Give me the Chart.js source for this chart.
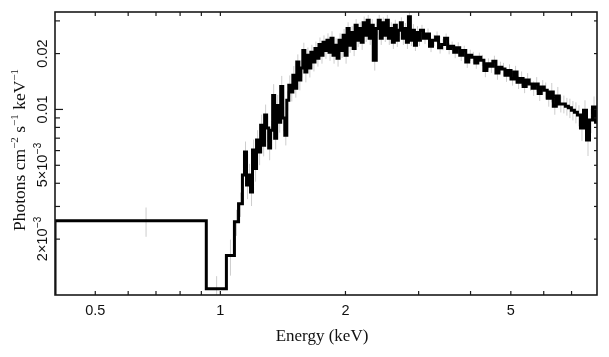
<!DOCTYPE html>
<html>
<head>
<meta charset="utf-8">
<script src="https://cdn.jsdelivr.net/npm/chart.js@4/dist/chart.umd.min.js"></script>
<style>
html,body{margin:0;padding:0;background:#fff;}
canvas{display:block;}
</style>
</head>
<body>
<canvas id="c" width="609" height="357"></canvas>
<script>
// Bin edges (keV)
const binEdges = [0.4, 0.925, 1.034, 1.081, 1.106, 1.130, 1.143, 1.156, 1.169, 1.182, 1.195, 1.209, 1.222, 1.236, 1.250, 1.264, 1.278, 1.292, 1.307, 1.321, 1.336, 1.351, 1.366, 1.382, 1.397, 1.413, 1.429, 1.445, 1.461, 1.477, 1.494, 1.511, 1.527, 1.545, 1.562, 1.579, 1.597, 1.615, 1.633, 1.651, 1.670, 1.689, 1.707, 1.727, 1.746, 1.766, 1.785, 1.805, 1.826, 1.846, 1.867, 1.888, 1.909, 1.930, 1.952, 1.974, 1.996, 2.018, 2.041, 2.064, 2.087, 2.110, 2.134, 2.158, 2.182, 2.206, 2.231, 2.256, 2.281, 2.307, 2.333, 2.372, 2.398, 2.425, 2.452, 2.480, 2.508, 2.536, 2.564, 2.593, 2.622, 2.651, 2.681, 2.711, 2.741, 2.772, 2.803, 2.835, 2.866, 2.898, 2.931, 2.964, 2.997, 3.030, 3.082, 3.134, 3.186, 3.240, 3.295, 3.350, 3.407, 3.464, 3.523, 3.582, 3.643, 3.704, 3.767, 3.830, 3.895, 3.960, 4.027, 4.095, 4.164, 4.234, 4.306, 4.379, 4.452, 4.527, 4.604, 4.681, 4.760, 4.841, 4.922, 5.005, 5.090, 5.176, 5.263, 5.352, 5.442, 5.534, 5.627, 5.722, 5.819, 5.917, 6.017, 6.118, 6.221, 6.326, 6.433, 6.541, 6.652, 6.764, 6.878, 6.994, 7.112, 7.232, 7.354, 7.478, 7.604, 7.732, 7.863, 7.995, 8.13];

// Flux per bin (photons cm^-2 s^-1 keV^-1)
const flux = [0.00251, 0.00108, 0.00163, 0.00248, 0.00310, 0.00443, 0.00589, 0.00391, 0.00443, 0.00359,
  0.00604, 0.00480, 0.00684, 0.00589, 0.00823, 0.00642, 0.00932, 0.00794, 0.00619, 0.00773,
  0.0119, 0.00700, 0.0105, 0.00852, 0.0133, 0.00898, 0.00727, 0.0112, 0.0135, 0.0124,
  0.0153, 0.0130, 0.0180, 0.0144, 0.0167, 0.0208, 0.0159, 0.0196, 0.0167, 0.0203,
  0.0180, 0.0213, 0.0189, 0.0224, 0.0196, 0.0230, 0.0208, 0.0236, 0.0203, 0.0242,
  0.0196, 0.0222, 0.0189, 0.0236, 0.0208, 0.0251, 0.0196, 0.0273, 0.0222, 0.0260,
  0.0213, 0.0284, 0.0236, 0.0273, 0.0230, 0.0293, 0.0251, 0.0302, 0.0242, 0.0284,
  0.0184, 0.0273, 0.0302, 0.0242, 0.0293, 0.0251, 0.0302, 0.0242, 0.0273, 0.0230,
  0.0284, 0.0236, 0.0267, 0.0293, 0.0242, 0.0273, 0.0230, 0.0316, 0.0236, 0.0267,
  0.0222, 0.0260, 0.0236, 0.0267, 0.0242, 0.0255, 0.0219, 0.0236, 0.0246, 0.0215,
  0.0224, 0.0242, 0.0213, 0.0219, 0.0203, 0.0215, 0.0196, 0.0208, 0.0180, 0.0196,
  0.0191, 0.0178, 0.0191, 0.0184, 0.0162, 0.0176, 0.0171, 0.0182, 0.0157, 0.0169,
  0.0165, 0.0153, 0.0162, 0.0146, 0.0159, 0.0140, 0.0147, 0.0133, 0.0144, 0.0137,
  0.0130, 0.0137, 0.0122, 0.0132, 0.0127, 0.0115, 0.0124, 0.0104, 0.0118, 0.0107,
  0.0107, 0.0104, 0.0102, 0.00991, 0.00967, 0.00932, 0.00794, 0.00991, 0.00684, 0.00876,
  0.0103, 0.00852];

// Relative 1-sigma error per bin
const relErr = [0.18, 0.17, 0.22, 0.16, 0.15,
  0.15, 0.14, 0.16, 0.15, 0.16, 0.14, 0.15, 0.13, 0.15, 0.14, 0.13, 0.14, 0.16, 0.14, 0.12, 0.15, 0.13, 0.14, 0.12, 0.14, 0.15, 0.12, 0.12, 0.13, 0.11,
  0.12, 0.11, 0.10, 0.12, 0.11, 0.10, 0.12, 0.10, 0.11, 0.10, 0.11, 0.09, 0.10, 0.09, 0.10, 0.09, 0.10, 0.09, 0.10, 0.09, 0.10, 0.09, 0.10, 0.09, 0.09, 0.08, 0.10,
  0.08, 0.09, 0.08, 0.09, 0.08, 0.08, 0.08, 0.09, 0.08, 0.08, 0.07, 0.08, 0.08, 0.12, 0.08, 0.07, 0.08, 0.07, 0.08, 0.07, 0.08, 0.08, 0.08, 0.07, 0.08, 0.07, 0.07, 0.08, 0.07, 0.08, 0.08, 0.07, 0.08, 0.07, 0.08, 0.07, 0.07, 0.07, 0.07, 0.07, 0.07, 0.07, 0.07,
  0.07, 0.06, 0.07, 0.06, 0.07, 0.07, 0.07, 0.06, 0.07, 0.07, 0.07, 0.07, 0.06, 0.07, 0.08, 0.07, 0.08, 0.07, 0.08, 0.07, 0.08, 0.08, 0.08, 0.08, 0.08, 0.08, 0.09, 0.08, 0.09, 0.08, 0.09, 0.09, 0.09, 0.09, 0.10,
  0.10, 0.12, 0.10, 0.12, 0.10, 0.11, 0.11, 0.12, 0.12, 0.13, 0.13, 0.15, 0.13, 0.18, 0.15, 0.14, 0.16];

// Axes
const xRange = [0.4, 8.06];
const yRange = [0.001, 0.0335];
const xTickValues = [0.5, 0.6, 0.7, 0.8, 0.9, 1, 2, 3, 4, 5, 6, 7];
const xLabelValues = [0.5, 1, 2, 5];
const xLabelTexts = ['0.5', '1', '2', '5'];
const yTickValues = [0.002, 0.003, 0.004, 0.005, 0.006, 0.007, 0.008, 0.009, 0.01, 0.02, 0.03];
const yLabelValues = [0.002, 0.005, 0.01, 0.02];
const yLabelBases = ['2×10', '5×10', '0.01', '0.02'];
const yLabelExps = ['−3', '−3', '', ''];
const xTitle = 'Energy (keV)';
const yTitleParts = [['Photons cm', false], ['−2', true], [' s', false], ['−1', true], [' keV', false], ['−1', true]];

const n = Math.min(flux.length, binEdges.length - 1, relErr.length);
// step starts from the axis floor at the first bin edge
const stepPts = [{x: binEdges[0], y: yRange[0]}];
for (let i = 0; i < n; i++) stepPts.push({x: binEdges[i], y: flux[i]});
stepPts.push({x: binEdges[n], y: flux[n - 1]});

const errPts = [];
for (let i = 0; i < n; i++) {
  const c = (binEdges[i] + binEdges[i + 1]) / 2;
  errPts.push({x: c, y: flux[i] * (1 - relErr[i])});
  errPts.push({x: c, y: flux[i] * (1 + relErr[i])});
  errPts.push({x: c, y: null});
}

const SANS = '"Liberation Sans", Arial, Helvetica, sans-serif';
const SERIF = '"Liberation Serif", "Times New Roman", serif';

const framePlugin = {
  id: 'frame',
  afterDraw(chart) {
    const {ctx, chartArea: a, scales} = chart;
    const xs = scales.x, ys = scales.y;
    ctx.save();
    const seg = (x1, y1, x2, y2) => { ctx.beginPath(); ctx.moveTo(x1, y1); ctx.lineTo(x2, y2); ctx.stroke(); };
    ctx.strokeStyle = '#1a1a1a';
    ctx.lineWidth = 1.6;
    ctx.strokeRect(a.left, a.top, a.right - a.left, a.bottom - a.top);
    ctx.lineWidth = 1.2;
    xTickValues.forEach(v => {
      const px = xs.getPixelForValue(v);
      seg(px, a.bottom, px, a.bottom - 4);
      seg(px, a.top, px, a.top + 4);
    });
    yTickValues.forEach(v => {
      const py = ys.getPixelForValue(v);
      const L = (v === 0.01) ? 8 : 5;
      seg(a.left, py, a.left + L, py);
      seg(a.right, py, a.right - 3, py);
    });
    // x tick labels
    ctx.fillStyle = '#111';
    ctx.font = '14.5px ' + SANS;
    ctx.textAlign = 'center';
    ctx.textBaseline = 'alphabetic';
    xLabelValues.forEach((v, i) => {
      ctx.fillText(xLabelTexts[i], xs.getPixelForValue(v), a.bottom + 20);
    });
    // y tick labels (rotated)
    yLabelValues.forEach((v, i) => {
      const py = ys.getPixelForValue(v);
      ctx.save();
      ctx.translate(a.left - 8, py);
      ctx.rotate(-Math.PI / 2);
      ctx.font = '14.5px ' + SANS;
      const wb = ctx.measureText(yLabelBases[i]).width;
      let we = 0;
      if (yLabelExps[i]) { ctx.font = '10px ' + SANS; we = ctx.measureText(yLabelExps[i]).width; }
      const start = -(wb + we) / 2;
      ctx.textAlign = 'left';
      ctx.font = '14.5px ' + SANS;
      ctx.fillText(yLabelBases[i], start, 0);
      if (yLabelExps[i]) { ctx.font = '10px ' + SANS; ctx.fillText(yLabelExps[i], start + wb + 0.5, -6); }
      ctx.restore();
    });
    // x title
    ctx.font = '17px ' + SERIF;
    ctx.textAlign = 'center';
    ctx.fillText(xTitle, 322, 341);
    // y title
    ctx.save();
    ctx.translate(25, 150);
    ctx.rotate(-Math.PI / 2);
    let total = 0;
    const widths = yTitleParts.map(([t, sup]) => { ctx.font = (sup ? '11px ' : '17.5px ') + SERIF; const w = ctx.measureText(t).width; total += w; return w; });
    let pos = -total / 2;
    ctx.textAlign = 'left';
    yTitleParts.forEach(([t, sup], i) => {
      ctx.font = (sup ? '11px ' : '17.5px ') + SERIF;
      ctx.fillText(t, pos, sup ? -7 : 0);
      pos += widths[i];
    });
    ctx.restore();
    ctx.restore();
  }
};

new Chart(document.getElementById('c'), {
  type: 'line',
  data: {
    datasets: [
      {data: stepPts, stepped: 'before', borderColor: '#000', borderWidth: 3, pointRadius: 0, fill: false, tension: 0},
      {data: errPts, borderColor: '#cdcdcd', borderWidth: 1, pointRadius: 0, fill: false, spanGaps: false, tension: 0}
    ]
  },
  options: {
    responsive: false,
    animation: false,
    devicePixelRatio: 1,
    events: [],
    layout: {padding: {left: 55, right: 12, top: 12, bottom: 62}},
    plugins: {legend: {display: false}, tooltip: {enabled: false}},
    scales: {
      x: {type: 'logarithmic', min: xRange[0], max: xRange[1], display: false},
      y: {type: 'logarithmic', min: yRange[0], max: yRange[1], display: false}
    }
  },
  plugins: [framePlugin]
});
</script>
</body>
</html>
